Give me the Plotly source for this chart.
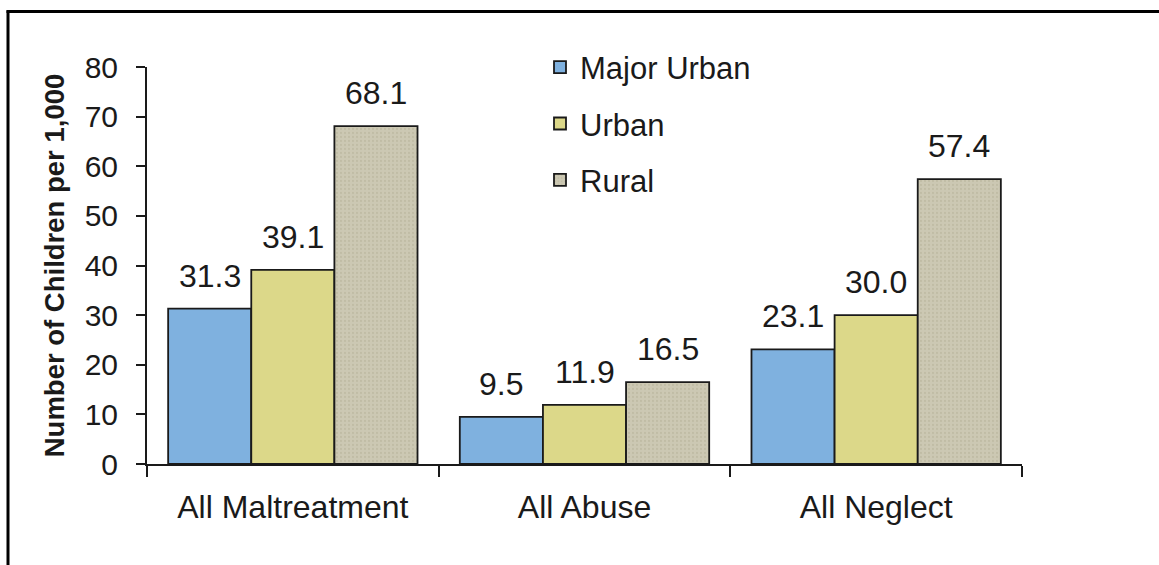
import plotly.graph_objects as go

# ---- data ----
categories = ["All Maltreatment", "All Abuse", "All Neglect"]
series_names = ["Major Urban", "Urban", "Rural"]
major_urban = [31.3, 9.5, 23.1]
urban = [39.1, 11.9, 30.0]
rural = [68.1, 16.5, 57.4]
y_ticks = [0, 10, 20, 30, 40, 50, 60, 70, 80]
y_title = "Number of Children per 1,000"

# ---- styling ----
W, H = 1159, 565
L, R, T, B = 147, 137, 66.5, 101
plot_w = W - L - R
plot_h = H - T - B
bargap = 0.145
FONT = "Liberation Sans, Arial, sans-serif"
colors = ["#7fb1df", "#dcd889", "#ccc8b3"]
line_col = "#1a1a1a"

fig = go.Figure()
values = [major_urban, urban, rural]
for i, (name, vals) in enumerate(zip(series_names, values)):
    marker = dict(color=colors[i], line=dict(color=line_col, width=1.8))
    if name == "Rural":
        marker["pattern"] = dict(shape=".", size=4, solidity=0.25,
                                 fgcolor="#b3af98", bgcolor=colors[i])
    fig.add_trace(go.Bar(x=categories, y=vals, name=name, marker=marker,
                         legendgroup=name))

# data labels placed through the axis scales
cat_w = plot_w / len(categories)
bar_w = cat_w * (1 - bargap) / len(series_names)
annotations = []
for i, vals in enumerate(values):
    for c, v in zip(categories, vals):
        annotations.append(dict(
            x=c, y=v, xref="x", yref="y", text=f"{v:.1f}", showarrow=False,
            xshift=(i - 1) * bar_w, yshift=13, yanchor="bottom",
            font=dict(family=FONT, size=32, color="#1a1a1a")))

def px_x(px):
    return (px - L) / plot_w

def px_y(py):
    return (H - B - py) / plot_h

shapes = [
    dict(type="line", xref="paper", yref="paper", x0=px_x(8), x1=px_x(8),
         y0=px_y(10), y1=px_y(H + 5), line=dict(color="black", width=3)),
    dict(type="line", xref="paper", yref="paper", x0=px_x(6.5), x1=px_x(W + 5),
         y0=px_y(11), y1=px_y(11), line=dict(color="black", width=3)),
]

fig.update_layout(
    width=W, height=H,
    margin=dict(l=L, r=R, t=T, b=B, autoexpand=False),
    paper_bgcolor="white", plot_bgcolor="white",
    barmode="group", bargap=bargap, bargroupgap=0,
    font=dict(family=FONT, color="#1a1a1a"),
    showlegend=True,
    legend=dict(x=px_x(540), y=px_y(40), xanchor="left", yanchor="top",
                bgcolor="rgba(0,0,0,0)", font=dict(size=31, family=FONT),
                tracegroupgap=13, itemwidth=30),
    annotations=annotations,
    shapes=shapes,
    xaxis=dict(showline=True, linecolor=line_col, linewidth=2,
               ticks="outside", tickson="boundaries", ticklen=11,
               tickwidth=2, tickcolor=line_col,
               tickfont=dict(size=32, family=FONT), ticklabelstandoff=14,
               showgrid=False, zeroline=False),
    yaxis=dict(range=[0, 80], tickvals=y_ticks, showline=True,
               linecolor=line_col, linewidth=2, ticks="outside", ticklen=9,
               tickwidth=2, tickcolor=line_col,
               tickfont=dict(size=30, family=FONT), ticklabelstandoff=12,
               showgrid=False, zeroline=False,
               title=dict(text=y_title, standoff=12,
                          font=dict(size=27.5, family=FONT, weight="bold"))),
)

fig.write_html("out.html", config={"displayModeBar": False},
               post_script="document.body.style.margin='0';document.body.style.overflow='hidden';")
